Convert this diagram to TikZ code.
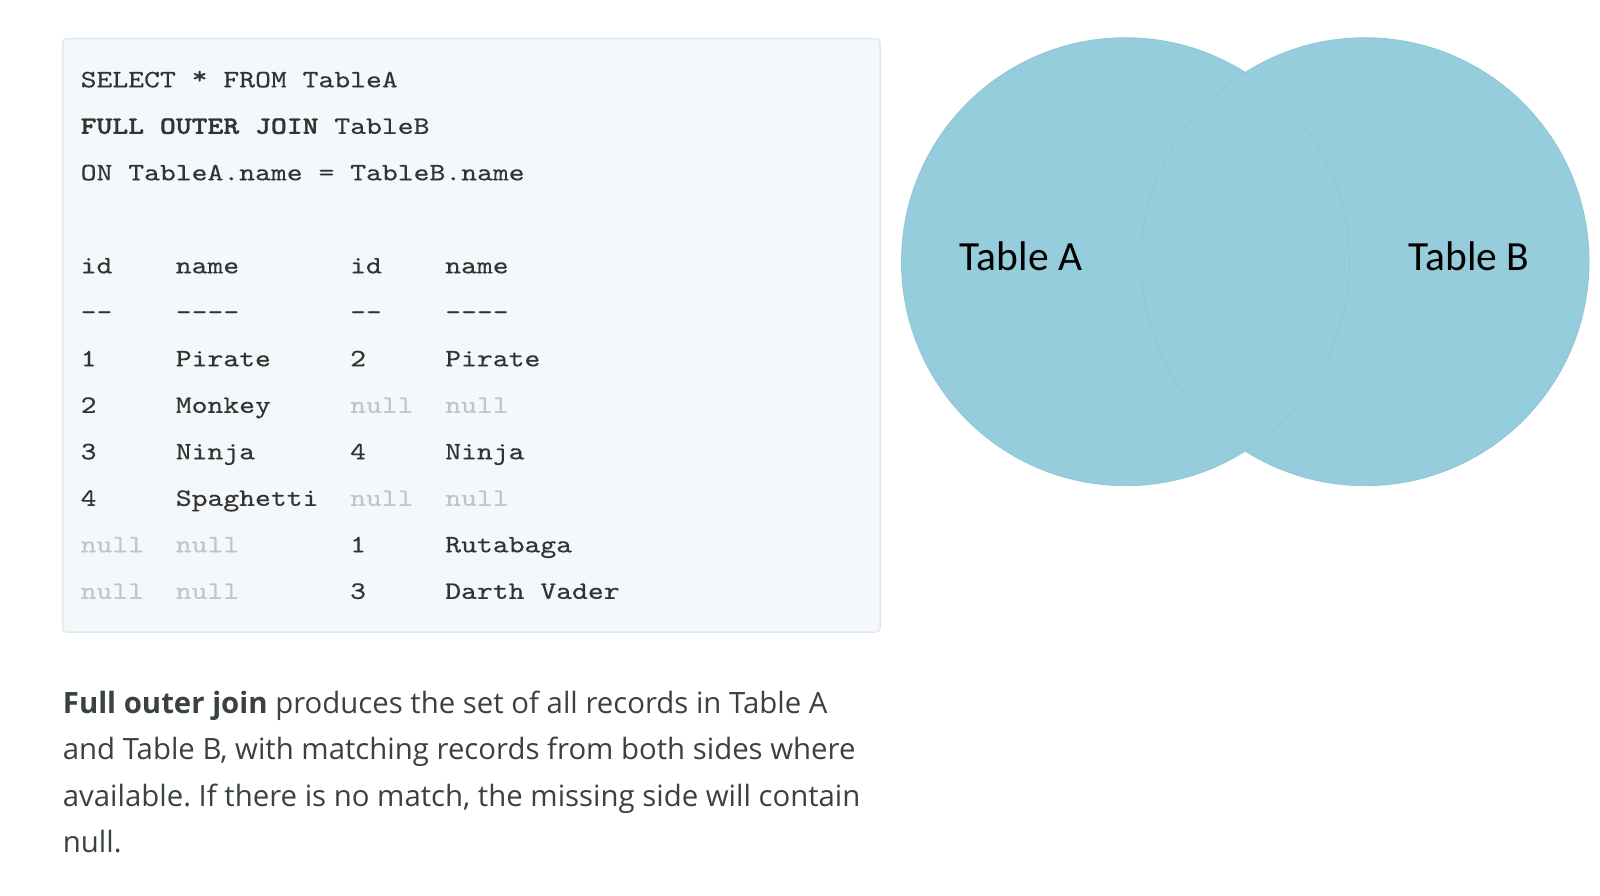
\documentclass[tikz,border=0pt]{standalone}
\usepackage{fontspec}
\newfontfamily\parafont{Open Sans}
\newfontfamily\vennfont{Carlito}
\newfontfamily\codefont{lmmono10-regular.otf}[FakeStretch=1.208, FakeBold=0.3, BoldFont=lmmonolt10-bold.otf, BoldFeatures={FakeStretch=1.208, FakeBold=1.2}]
\definecolor{boxfill}{HTML}{F5F8FA}
\definecolor{boxline}{HTML}{E1E8ED}
\definecolor{codetext}{HTML}{333333}
\definecolor{nulltext}{HTML}{C4C4C4}
\definecolor{paratext}{HTML}{3A4145}
\definecolor{venn}{HTML}{96CDDC}
\definecolor{vennedge}{HTML}{8FC6D6}
\frenchspacing
\tikzset{
  code/.style={anchor=base west, inner sep=0pt, text=codetext, font=\codefont\fontsize{25}{30}\selectfont},
  nullc/.style={code, text=nulltext},
  para/.style={anchor=base west, inner sep=0pt, text=paratext, font=\parafont\fontsize{29.35}{34}\selectfont},
  vlabel/.style={anchor=base, inner sep=0pt, text=black, font=\vennfont\fontsize{41.5}{48}\selectfont},
}
\begin{document}
\begin{tikzpicture}[x=1pt,y=-1pt]
\useasboundingbox (0,0) rectangle (1600,895);
\fill[white] (0,0) rectangle (1600,895);
% code box
\draw[rounded corners=4pt, fill=boxfill, draw=boxline, line width=1.5pt] (62.5,38.5) rectangle (880,632);
\def\cx{80.5}
\def\p{15.85}
\node[code] (l1) at (\cx,87.3) {SELECT \raisebox{3.5pt}{*} FROM TableA};
\node[code] (l2) at (\cx,133.8) {\textbf{FULL OUTER JOIN} TableB};
\node[code] (l3) at (\cx,180.3) {ON TableA.name = TableB.name};
% header
\node[code] (h1) at (\cx,273.3) {id};
\node[code] (h2) at (\cx+6*\p,273.3) {name};
\node[code] (h3) at (\cx+17*\p,273.3) {id};
\node[code] (h4) at (\cx+23*\p,273.3) {name};
\node[code] (d1) at (\cx,319.8) {-\relax-};
\node[code] (d2) at (\cx+6*\p,319.8) {-\relax-\relax-\relax-};
\node[code] (d3) at (\cx+17*\p,319.8) {-\relax-};
\node[code] (d4) at (\cx+23*\p,319.8) {-\relax-\relax-\relax-};
% rows
\node[code] (r1a) at (\cx,366.3) {1};
\node[code] (r1b) at (\cx+6*\p,366.3) {Pirate};
\node[code] (r1c) at (\cx+17*\p,366.3) {2};
\node[code] (r1d) at (\cx+23*\p,366.3) {Pirate};
\node[code] (r2a) at (\cx,412.8) {2};
\node[code] (r2b) at (\cx+6*\p,412.8) {Monkey};
\node[nullc] (r2c) at (\cx+17*\p,412.8) {null};
\node[nullc] (r2d) at (\cx+23*\p,412.8) {null};
\node[code] (r3a) at (\cx,459.3) {3};
\node[code] (r3b) at (\cx+6*\p,459.3) {Ninja};
\node[code] (r3c) at (\cx+17*\p,459.3) {4};
\node[code] (r3d) at (\cx+23*\p,459.3) {Ninja};
\node[code] (r4a) at (\cx,505.8) {4};
\node[code] (r4b) at (\cx+6*\p,505.8) {Spaghetti};
\node[nullc] (r4c) at (\cx+17*\p,505.8) {null};
\node[nullc] (r4d) at (\cx+23*\p,505.8) {null};
\node[nullc] (r5a) at (\cx,552.3) {null};
\node[nullc] (r5b) at (\cx+6*\p,552.3) {null};
\node[code] (r5c) at (\cx+17*\p,552.3) {1};
\node[code] (r5d) at (\cx+23*\p,552.3) {Rutabaga};
\node[nullc] (r6a) at (\cx,598.8) {null};
\node[nullc] (r6b) at (\cx+6*\p,598.8) {null};
\node[code] (r6c) at (\cx+17*\p,598.8) {3};
\node[code] (r6d) at (\cx+23*\p,598.8) {Darth Vader};
% venn
\fill[venn] (1125.5,261.7) circle[radius=224];
\fill[venn] (1365,261.7) circle[radius=224];
\draw[vennedge, line width=0.8pt] (1125.5,261.7) circle[radius=224];
\draw[vennedge, line width=0.8pt] (1365,261.7) circle[radius=224];
\node[vlabel] (ta) at (1021,270) {Table A};
\node[vlabel] (tb) at (1469,270) {Table B};
% paragraph
\node[para] (p1) at (62.7,713.3) {\textbf{Full outer join} produces the set of all records in Table A};
\node[para] (p2) at (62.7,759.8) {and Table B, with matching records from both sides where};
\node[para] (p3) at (62.7,806.3) {available. If there is no match, the missing side will contain};
\node[para] (p4) at (62.7,852.8) {null.};
\end{tikzpicture}
\end{document}
